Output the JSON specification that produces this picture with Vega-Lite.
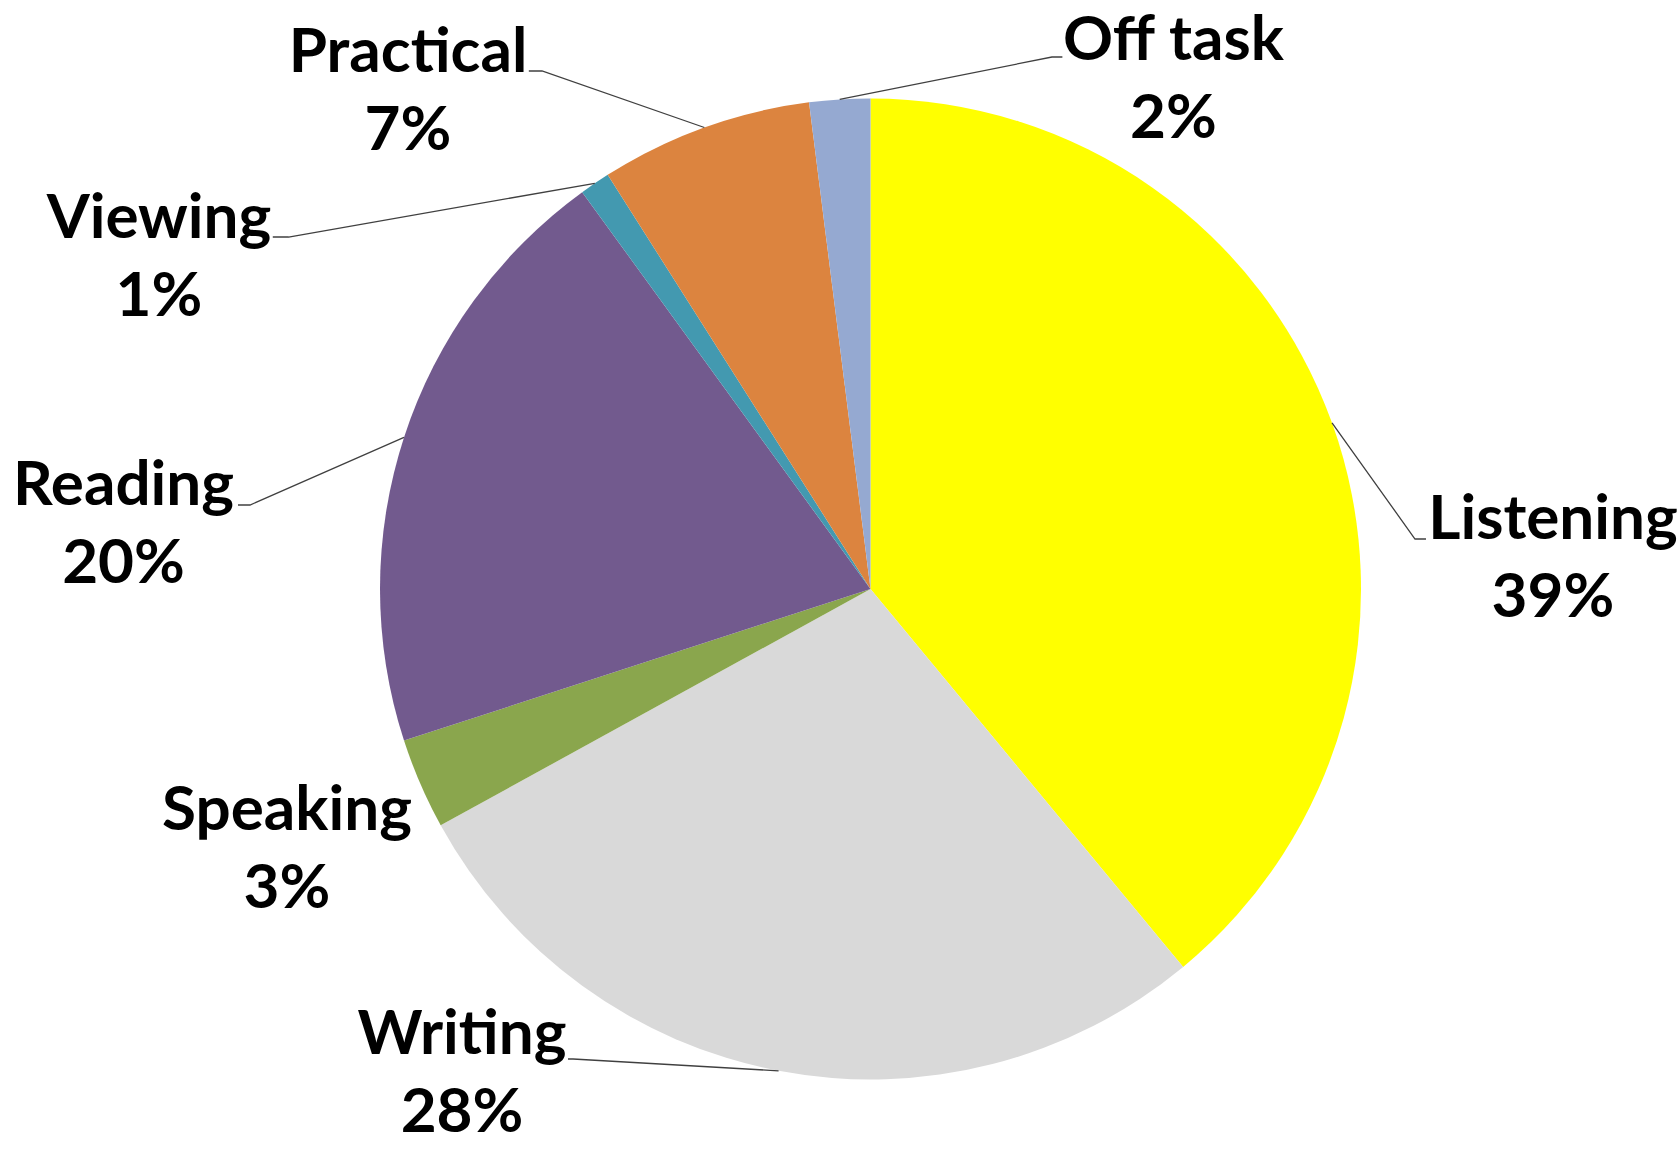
{
  "$schema": "https://vega.github.io/schema/vega-lite/v6.json",
  "width": 1679,
  "height": 1149,
  "padding": 0,
  "autosize": {"type": "none"},
  "background": "white",
  "config": {"view": {"stroke": null}},
  "datasets": {
    "slices": [
      {"category": "Listening", "value": 39},
      {"category": "Writing", "value": 28},
      {"category": "Speaking", "value": 3},
      {"category": "Reading", "value": 20},
      {"category": "Viewing", "value": 1},
      {"category": "Practical", "value": 7},
      {"category": "Off task", "value": 2}
    ],
    "labelAnchors": [
      {"category": "Listening", "lx": 1.3914, "ly": 0.1019},
      {"category": "Writing", "lx": -0.8328, "ly": -0.948},
      {"category": "Speaking", "lx": -1.1896, "ly": -0.4913},
      {"category": "Reading", "lx": -1.5229, "ly": 0.1713},
      {"category": "Viewing", "lx": -1.4506, "ly": 0.7156},
      {"category": "Practical", "lx": -0.9429, "ly": 1.054},
      {"category": "Off task", "lx": 0.6175, "ly": 1.0785}
    ],
    "leaders": [
      {"category": "Listening", "step": 1, "px": 0.9409, "py": 0.3387},
      {"category": "Listening", "step": 2, "px": 1.1101, "py": 0.1019},
      {"category": "Listening", "step": 3, "px": 1.1325, "py": 0.1019},
      {"category": "Writing", "step": 1, "px": -0.1874, "py": -0.9823},
      {"category": "Writing", "step": 2, "px": -0.6065, "py": -0.9582},
      {"category": "Writing", "step": 3, "px": -0.6167, "py": -0.9582},
      {"category": "Reading", "step": 1, "px": -0.9511, "py": 0.309},
      {"category": "Reading", "step": 2, "px": -1.265, "py": 0.1713},
      {"category": "Reading", "step": 3, "px": -1.2895, "py": 0.1713},
      {"category": "Viewing", "step": 1, "px": -0.5621, "py": 0.8271},
      {"category": "Viewing", "step": 2, "px": -1.1863, "py": 0.7176},
      {"category": "Viewing", "step": 3, "px": -1.2186, "py": 0.7176},
      {"category": "Practical", "step": 1, "px": -0.3387, "py": 0.9409},
      {"category": "Practical", "step": 2, "px": -0.6697, "py": 1.0561},
      {"category": "Practical", "step": 3, "px": -0.6966, "py": 1.0561},
      {"category": "Off task", "step": 1, "px": -0.0628, "py": 0.998},
      {"category": "Off task", "step": 2, "px": 0.37, "py": 1.0846},
      {"category": "Off task", "step": 3, "px": 0.3912, "py": 1.0846}
    ]
  },
  "layer": [
    {
      "data": {"name": "slices"},
      "transform": [{"window": [{"op": "row_number", "as": "rank"}]}],
      "mark": {"type": "arc", "outerRadius": 490.5},
      "encoding": {
        "x": {"datum": 0, "type": "quantitative", "scale": {"domain": [-1.77472, 1.64832], "nice": false, "zero": false}, "axis": null},
        "y": {"datum": 0, "type": "quantitative", "scale": {"domain": [-1.14169, 1.20082], "nice": false, "zero": false}, "axis": null},
        "theta": {"field": "value", "type": "quantitative", "stack": true},
        "order": {"field": "rank", "type": "quantitative"},
        "color": {
          "field": "category",
          "type": "nominal",
          "scale": {
            "domain": ["Listening", "Writing", "Speaking", "Reading", "Viewing", "Practical", "Off task"],
            "range": ["#FFFF00", "#D9D9D9", "#8AA64D", "#725A8E", "#4399B0", "#DC843F", "#95A9D1"]
          },
          "legend": null
        }
      }
    },
    {
      "data": {"name": "leaders"},
      "mark": {"type": "line", "color": "#404040", "strokeWidth": 1.3},
      "encoding": {
        "x": {"field": "px", "type": "quantitative", "scale": {"domain": [-1.77472, 1.64832], "nice": false, "zero": false}, "axis": null},
        "y": {"field": "py", "type": "quantitative", "scale": {"domain": [-1.14169, 1.20082], "nice": false, "zero": false}, "axis": null},
        "detail": {"field": "category", "type": "nominal"},
        "order": {"field": "step", "type": "quantitative"}
      }
    },
    {
      "data": {"name": "labelAnchors"},
      "transform": [
        {"lookup": "category", "from": {"data": {"name": "slices"}, "key": "category", "fields": ["value"]}},
        {"calculate": "datum.category + '\\n' + datum.value + '%'", "as": "label"}
      ],
      "mark": {"type": "text", "align": "center", "baseline": "alphabetic", "font": "Lato, sans-serif", "fontWeight": "bold", "fontSize": 62, "lineHeight": 78, "lineBreak": "\n", "color": "#000000"},
      "encoding": {
        "x": {"field": "lx", "type": "quantitative", "scale": {"domain": [-1.77472, 1.64832], "nice": false, "zero": false}, "axis": null},
        "y": {"field": "ly", "type": "quantitative", "scale": {"domain": [-1.14169, 1.20082], "nice": false, "zero": false}, "axis": null},
        "text": {"field": "label", "type": "nominal"}
      }
    }
  ]
}
